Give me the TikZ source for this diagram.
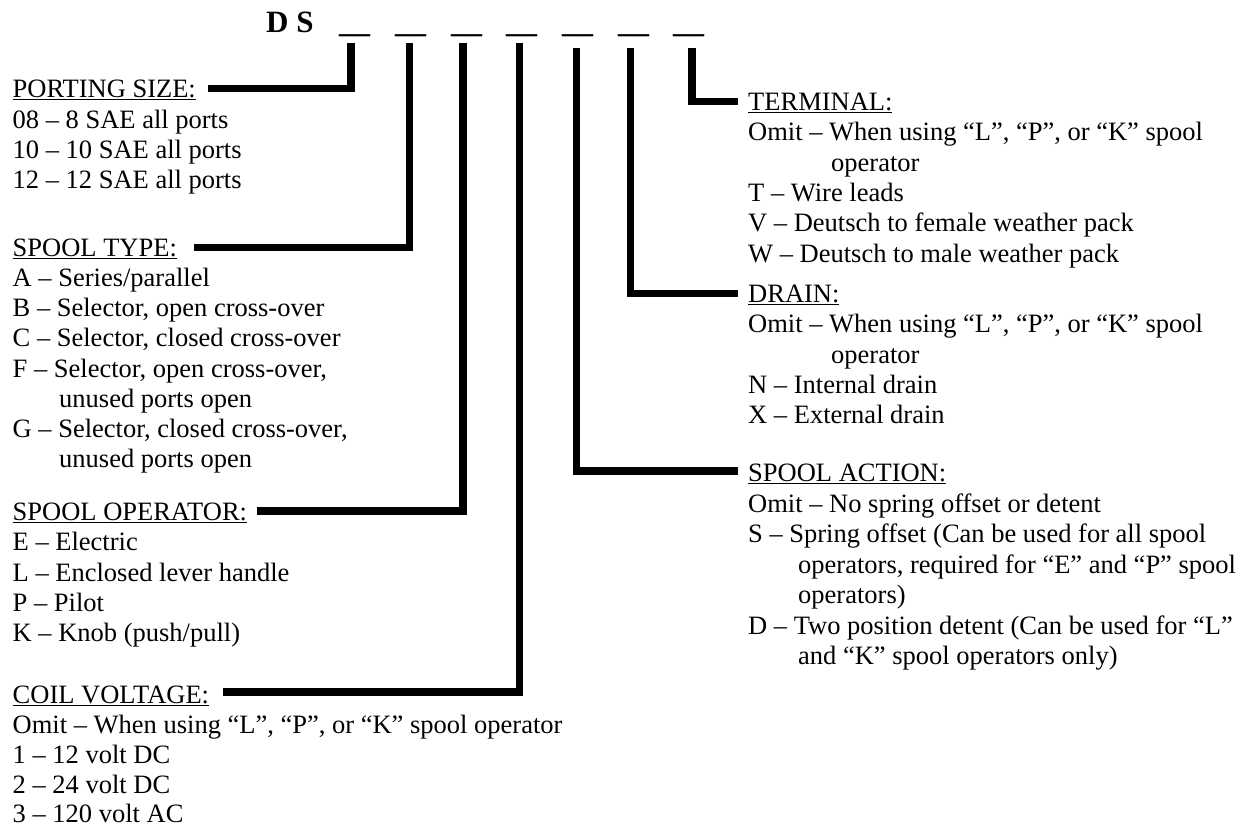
\documentclass[tikz,border=0pt]{standalone}
\usepackage{fontspec}
\setmainfont{Liberation Serif}
\newcommand{\bodyfont}{\fontsize{26.5}{30.5}\selectfont}
\newcommand{\titlefont}{\fontsize{31}{36}\selectfont\bfseries}
\tikzset{
  txt/.style={anchor=base west, inner sep=0pt, font=\bodyfont},
  ttl/.style={anchor=base west, inner sep=0pt, font=\titlefont},
  lead/.style={line width=7.5pt, line join=miter, line cap=butt, black}
}
\begin{document}
\begin{tikzpicture}[x=1pt,y=-1pt]
\useasboundingbox (0,0) rectangle (1251,828);
% title
\node[ttl] (ds) at (266,32.3) {D S};
\node[ttl] (u1) at (339,32.3) {\_\_};
\node[ttl] (u2) at (395,32.3) {\_\_};
\node[ttl] (u3) at (451,32.3) {\_\_};
\node[ttl] (u4) at (506,32.3) {\_\_};
\node[ttl] (u5) at (562,32.3) {\_\_};
\node[ttl] (u6) at (618,32.3) {\_\_};
\node[ttl] (u7) at (673,32.3) {\_\_};
% left column
\node[txt] (hport) at (12.5,97) {\underline{PORTING SIZE:}};
\node[txt] (p1) at (12.5,128) {08 – 8 SAE all ports};
\node[txt] (p2) at (12.5,158) {10 – 10 SAE all ports};
\node[txt] (p3) at (12.5,188) {12 – 12 SAE all ports};
\node[txt] (htype) at (12.5,256) {\underline{SPOOL TYPE:}};
\node[txt] (t1) at (12.5,286) {A – Series/parallel};
\node[txt] (t2) at (12.5,316) {B – Selector, open cross-over};
\node[txt] (t3) at (12.5,346.5) {C – Selector, closed cross-over};
\node[txt] (t4) at (12.5,377) {F – Selector, open cross-over,};
\node[txt] (t5) at (59,407) {unused ports open};
\node[txt] (t6) at (12.5,437) {G – Selector, closed cross-over,};
\node[txt] (t7) at (59,467.5) {unused ports open};
\node[txt] (hoper) at (12.5,520.5) {\underline{SPOOL OPERATOR:}};
\node[txt] (o1) at (12.5,550.5) {E – Electric};
\node[txt] (o2) at (12.5,581) {L – Enclosed lever handle};
\node[txt] (o3) at (12.5,611.5) {P – Pilot};
\node[txt] (o4) at (12.5,641) {K – Knob (push/pull)};
\node[txt] (hcoil) at (12.5,703) {\underline{COIL VOLTAGE:}};
\node[txt] (c1) at (12.5,733) {Omit – When using “L”, “P”, or “K” spool operator};
\node[txt] (c2) at (12.5,763) {1 – 12 volt DC};
\node[txt] (c3) at (12.5,793) {2 – 24 volt DC};
\node[txt] (c4) at (12.5,822.5) {3 – 120 volt AC};
% right column
\node[txt] (hterm) at (748,110) {\underline{TERMINAL:}};
\node[txt] (r1) at (748,140.5) {Omit – When using “L”, “P”, or “K” spool};
\node[txt] (r2) at (831,171) {operator};
\node[txt] (r3) at (748,201) {T – Wire leads};
\node[txt] (r4) at (748,231.5) {V – Deutsch to female weather pack};
\node[txt] (r5) at (748,262) {W – Deutsch to male weather pack};
\node[txt] (hdrain) at (748,302) {\underline{DRAIN:}};
\node[txt] (d1) at (748,332.5) {Omit – When using “L”, “P”, or “K” spool};
\node[txt] (d2) at (831,363) {operator};
\node[txt] (d3) at (748,393) {N – Internal drain};
\node[txt] (d4) at (748,423.5) {X – External drain};
\node[txt] (hact) at (748,481.5) {\underline{SPOOL ACTION:}};
\node[txt] (a1) at (748,512) {Omit – No spring offset or detent};
\node[txt] (a2) at (748,542.5) {S – Spring offset (Can be used for all spool};
\node[txt] (a3) at (798,573) {operators, required for “E” and “P” spool};
\node[txt] (a4) at (798,603.5) {operators)};
\node[txt] (a5) at (748,634) {D – Two position detent (Can be used for “L”};
\node[txt] (a6) at (798,664.5) {and “K” spool operators only)};
% connector ends
\coordinate (s1) at (351,43);
\coordinate (s2) at (409.5,43);
\coordinate (s3) at (463,43);
\coordinate (s4) at (519.5,43);
\coordinate (s5) at (576.5,48);
\coordinate (s6) at (630.5,48);
\coordinate (s7) at (692,48);
\coordinate (e1) at (208,88.5);
\coordinate (e2) at (194,247.5);
\coordinate (e3) at (257,511);
\coordinate (e4) at (223,692);
\coordinate (e5) at (738,471);
\coordinate (e6) at (738,293.5);
\coordinate (e7) at (738,101.5);
\draw[lead] (s1) |- (e1);
\draw[lead] (s2) |- (e2);
\draw[lead] (s3) |- (e3);
\draw[lead] (s4) |- (e4);
\draw[lead] (s5) |- (e5);
\draw[lead] (s6) |- (e6);
\draw[lead] (s7) |- (e7);
\end{tikzpicture}
\end{document}
